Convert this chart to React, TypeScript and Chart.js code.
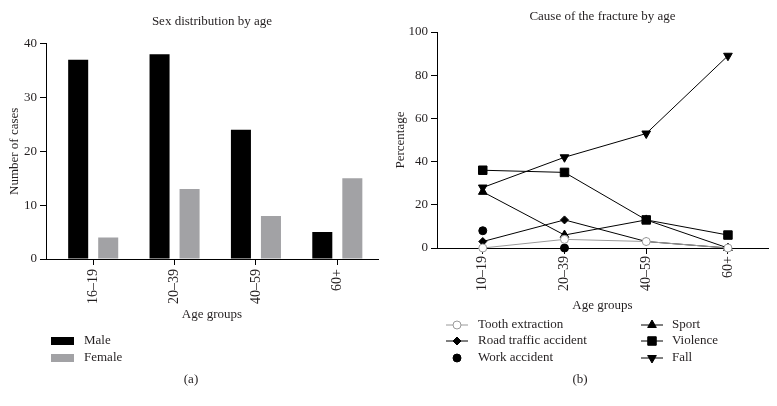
import React, { useEffect, useRef } from 'react';
import { Chart, registerables } from 'chart.js';
import { drawPoint } from 'chart.js/helpers';

Chart.register(...registerables);

// ---------- Data ----------
const SEX_AGE_GROUPS = ['16–19', '20–39', '40–59', '60+'];
const MALE_CASES = [37, 38, 24, 5];
const FEMALE_CASES = [4, 13, 8, 15];

const CAUSE_AGE_GROUPS = ['10–19', '20–39', '40–59', '60+'];
const TOOTH_EXTRACTION = [0, 4, 3, 0];
const ROAD_TRAFFIC_ACCIDENT = [3, 13, 3, 0];
const WORK_ACCIDENT: (number | null)[] = [8, 0, null, null];
const SPORT = [26, 6, 13, 0];
const VIOLENCE = [36, 35, 13, 6];
const FALL = [28, 42, 53, 89];

// ---------- Styles ----------
const FONT = 'Liberation Serif, Times New Roman, serif';
const TEXT = '#231f20';
const font13 = { family: FONT, size: 13, weight: 'normal' as const, lineHeight: 1.2 };
const font14 = { family: FONT, size: 14, weight: 'normal' as const, lineHeight: 1.2 };

type LegendItem = { dataset: number; x: number; y: number; textX: number; kind: 'box' | 'line' };

function makeLegend(items: LegendItem[], caption: string, captionX: number, captionY: number) {
  return {
    id: 'paperLegend',
    afterDraw(chart: any) {
      const ctx: CanvasRenderingContext2D = chart.ctx;
      ctx.save();
      ctx.font = `13px ${FONT}`;
      ctx.textBaseline = 'middle';
      ctx.textAlign = 'left';
      items.forEach((it) => {
        const ds: any = chart.data.datasets[it.dataset];
        if (it.kind === 'box') {
          ctx.fillStyle = ds.backgroundColor;
          ctx.fillRect(it.x, it.y - 4, 23, 8);
        } else {
          if (ds.showLine !== false) {
            ctx.strokeStyle = ds.borderColor;
            ctx.lineWidth = 1;
            ctx.beginPath();
            ctx.moveTo(it.x - 11, it.y);
            ctx.lineTo(it.x + 11, it.y);
            ctx.stroke();
          }
          ctx.fillStyle = ds.pointBackgroundColor;
          ctx.strokeStyle = ds.pointBorderColor;
          ctx.lineWidth = ds.pointBorderWidth ?? 1;
          drawPoint(ctx, {
            pointStyle: ds.pointStyle,
            rotation: ds.pointRotation || 0,
            radius: ds.pointRadius,
            borderWidth: ds.pointBorderWidth ?? 1,
          } as any, it.x, it.y);
        }
        ctx.fillStyle = TEXT;
        ctx.fillText(ds.label, it.textX, it.y);
      });
      ctx.textAlign = 'center';
      ctx.fillStyle = TEXT;
      ctx.fillText(caption, captionX, captionY);
      ctx.restore();
    },
  };
}

const axisGrid = { display: true, drawOnChartArea: false, tickLength: 6, color: '#000', lineWidth: 1, offset: false };
const axisBorder = { display: true, color: '#000', width: 1 };

// index-positioned x axis (group i sits at value i), labelled with the group names
function groupAxis(groups: string[], min: number, max: number, height: number, tickPadding: number) {
  return {
    type: 'linear',
    min,
    max,
    offset: false,
    grid: axisGrid,
    border: axisBorder,
    afterBuildTicks: (s: any) => { s.ticks = groups.map((_, i) => ({ value: i })); },
    ticks: {
      minRotation: 90,
      maxRotation: 90,
      padding: tickPadding,
      color: TEXT,
      font: font14,
      callback: (v: number) => groups[Math.round(v)] ?? '',
    },
    title: { display: true, text: 'Age groups', color: TEXT, font: font13, padding: 0 },
    afterFit: (s: any) => { s.height = height; },
  };
}

export default function App() {
  const leftRef = useRef<HTMLCanvasElement>(null);
  const rightRef = useRef<HTMLCanvasElement>(null);

  useEffect(() => {
    const left = new Chart(leftRef.current!, {
      type: 'bar',
      data: {
        labels: SEX_AGE_GROUPS.map((_, i) => i),
        datasets: [
          { label: 'Male', data: MALE_CASES, backgroundColor: '#000000', borderWidth: 0, categoryPercentage: 0.738, barPercentage: 0.667 },
          { label: 'Female', data: FEMALE_CASES, backgroundColor: '#a2a2a5', borderWidth: 0, categoryPercentage: 0.738, barPercentage: 0.667 },
        ],
      },
      options: {
        animation: false,
        responsive: false,
        layout: { padding: { left: 0, right: 12, top: 0, bottom: 84 } },
        plugins: {
          legend: { display: false },
          tooltip: { enabled: false },
          title: {
            display: true,
            text: 'Sex distribution by age',
            fullSize: false,
            color: TEXT,
            font: font13,
            padding: { top: 14, bottom: 14 },
          },
        },
        scales: {
          x: groupAxis(SEX_AGE_GROUPS, -0.58, 3.5, 63, 4),
          y: {
            min: 0,
            max: 40,
            grid: axisGrid,
            border: axisBorder,
            ticks: { stepSize: 10, padding: 3, color: TEXT, font: font13 },
            title: { display: true, text: 'Number of cases', color: TEXT, font: font13, padding: { top: 7, bottom: 0 } },
            afterFit: (s: any) => { s.width = 46; },
          },
        },
      },
      plugins: [
        makeLegend(
          [
            { dataset: 0, x: 51, y: 341, textX: 84, kind: 'box' },
            { dataset: 1, x: 51, y: 358, textX: 84, kind: 'box' },
          ],
          '(a)', 191, 380,
        ),
      ],
    } as any);

    const lineBase = { borderWidth: 1, pointBorderWidth: 1, clip: false as any };
    const right = new Chart(rightRef.current!, {
      type: 'line',
      data: {
        labels: CAUSE_AGE_GROUPS.map((_, i) => i),
        datasets: [
          { ...lineBase, label: 'Tooth extraction', data: TOOTH_EXTRACTION, borderColor: '#9a9a9a', backgroundColor: '#ffffff', pointBackgroundColor: '#ffffff', pointBorderColor: '#9a9a9a', pointStyle: 'circle', pointRadius: 4 },
          { ...lineBase, label: 'Road traffic accident', data: ROAD_TRAFFIC_ACCIDENT, borderColor: '#000', backgroundColor: '#000', pointBackgroundColor: '#000', pointBorderColor: '#000', pointStyle: 'rectRot', pointRadius: 4 },
          { ...lineBase, label: 'Work accident', data: WORK_ACCIDENT, showLine: false, borderColor: '#000', backgroundColor: '#000', pointBackgroundColor: '#000', pointBorderColor: '#000', pointStyle: 'circle', pointRadius: 4 },
          { ...lineBase, label: 'Sport', data: SPORT, borderColor: '#000', backgroundColor: '#000', pointBackgroundColor: '#000', pointBorderColor: '#000', pointStyle: 'triangle', pointRadius: 5 },
          { ...lineBase, label: 'Violence', data: VIOLENCE, borderColor: '#000', backgroundColor: '#000', pointBackgroundColor: '#000', pointBorderColor: '#000', pointStyle: 'rect', pointRadius: 6 },
          { ...lineBase, label: 'Fall', data: FALL, borderColor: '#000', backgroundColor: '#000', pointBackgroundColor: '#000', pointBorderColor: '#000', pointStyle: 'triangle', pointRotation: 180, pointRadius: 5 },
        ],
      },
      options: {
        animation: false,
        responsive: false,
        layout: { padding: { left: 0, right: 9, top: 0, bottom: 93 } },
        plugins: {
          legend: { display: false },
          tooltip: { enabled: false },
          title: {
            display: true,
            text: 'Cause of the fracture by age',
            fullSize: false,
            color: TEXT,
            font: font13,
            padding: { top: 9, bottom: 7.4 },
          },
        },
        scales: {
          x: groupAxis(CAUSE_AGE_GROUPS, -0.56, 3.49, 65, 2),
          y: {
            min: 0,
            max: 100,
            grid: axisGrid,
            border: axisBorder,
            ticks: { stepSize: 20, padding: 3, color: TEXT, font: font13 },
            title: { display: true, text: 'Percentage', color: TEXT, font: font13, padding: { top: 3, bottom: 0 } },
            afterFit: (s: any) => { s.width = 47; },
          },
        },
      },
      plugins: [
        makeLegend(
          [
            { dataset: 0, x: 67, y: 325, textX: 88, kind: 'line' },
            { dataset: 1, x: 67, y: 341, textX: 88, kind: 'line' },
            { dataset: 2, x: 67, y: 358, textX: 88, kind: 'line' },
            { dataset: 3, x: 262, y: 325, textX: 282, kind: 'line' },
            { dataset: 4, x: 262, y: 341, textX: 282, kind: 'line' },
            { dataset: 5, x: 262, y: 358, textX: 282, kind: 'line' },
          ],
          '(b)', 190, 380,
        ),
      ],
    } as any);

    return () => {
      left.destroy();
      right.destroy();
    };
  }, []);

  return (
    <div style={{ position: 'fixed', left: 0, top: 0, width: 777, height: 406, background: '#fff', overflow: 'hidden' }}>
      <canvas ref={leftRef} width={390} height={406} style={{ position: 'absolute', left: 0, top: 0, width: 390, height: 406 }} />
      <canvas ref={rightRef} width={387} height={406} style={{ position: 'absolute', left: 390, top: 0, width: 387, height: 406 }} />
    </div>
  );
}
